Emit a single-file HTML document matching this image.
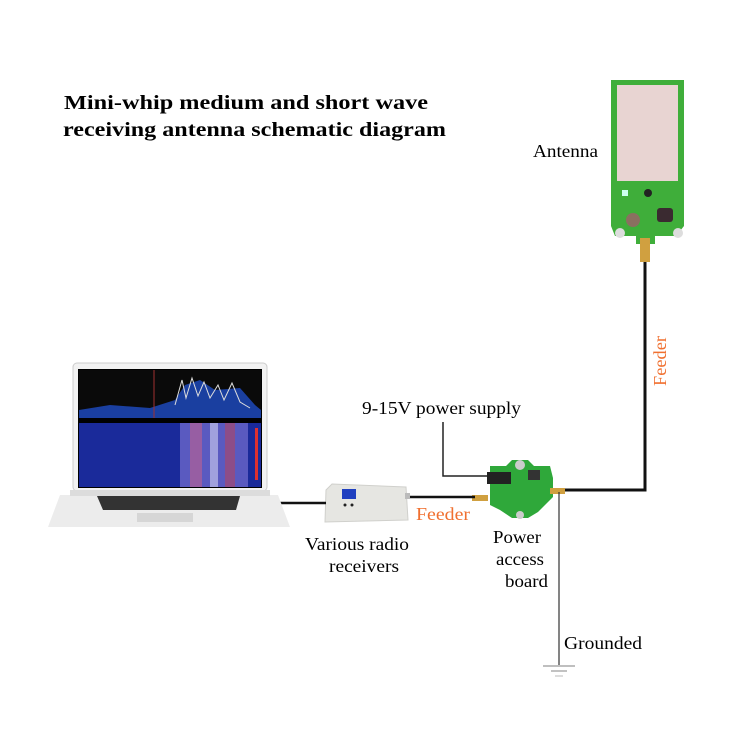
<!DOCTYPE html>
<html><head><meta charset="utf-8"><style>
html,body{margin:0;padding:0;background:#fff;}
svg{display:block;}
text{font-family:"Liberation Serif",serif;}
</style></head><body>
<svg width="750" height="750" viewBox="0 0 750 750" xmlns="http://www.w3.org/2000/svg">
<rect width="750" height="750" fill="#fff"/>
<!-- title -->
<text x="64" y="109" font-size="20" font-weight="bold" textLength="364" lengthAdjust="spacingAndGlyphs">Mini-whip medium and short wave</text>
<text x="63" y="136" font-size="20" font-weight="bold" textLength="383" lengthAdjust="spacingAndGlyphs">receiving antenna schematic diagram</text>

<!-- antenna -->
<path d="M611 80 H684 V226 L676 236 H655 V244 H636 V236 H615 L611 226 Z" fill="#3fae3a"/>
<rect x="617" y="85" width="61" height="96" fill="#e8d4d2"/>
<rect x="622" y="190" width="6" height="6" fill="#cfe"/>
<circle cx="648" cy="193" r="4" fill="#222"/>
<circle cx="633" cy="220" r="7" fill="#8a7060"/>
<rect x="657" y="208" width="16" height="14" rx="3" fill="#3a2a30"/>
<circle cx="620" cy="233" r="5" fill="#ddd"/><circle cx="678" cy="233" r="5" fill="#ddd"/>
<rect x="640" y="238" width="10" height="24" fill="#d0a040"/>
<!-- antenna feeder -->
<polyline points="645,262 645,490 555,490" fill="none" stroke="#111" stroke-width="3"/>
<text x="0" y="0" font-size="18" fill="#f07030" textLength="50" lengthAdjust="spacingAndGlyphs" transform="translate(666,386) rotate(-90)">Feeder</text>
<text x="533" y="157" font-size="18" textLength="65" lengthAdjust="spacingAndGlyphs">Antenna</text>

<!-- power board -->
<path d="M490 466 L506 466 L512 460 L528 460 L534 466 L550 466 L553 478 V497 L545 505 L538 512 L528 518 L512 518 L500 510 L490 505 Z" fill="#2fa83a"/>
<circle cx="520" cy="465" r="5" fill="#ccc"/><circle cx="520" cy="515" r="4" fill="#ccc"/>
<rect x="487" y="472" width="24" height="12" fill="#222"/>
<rect x="528" y="470" width="12" height="10" fill="#333"/>
<rect x="472" y="495" width="16" height="6" fill="#d0a040"/>
<rect x="550" y="488" width="15" height="6" fill="#d0a040"/>
<!-- power supply line -->
<polyline points="443,422 443,476 487,476" fill="none" stroke="#222" stroke-width="1.5"/>
<text x="362" y="414" font-size="18" textLength="159" lengthAdjust="spacingAndGlyphs">9-15V power supply</text>
<!-- ground -->
<line x1="559" y1="492" x2="559" y2="665" stroke="#333" stroke-width="1.2"/>
<line x1="543" y1="666" x2="575" y2="666" stroke="#999" stroke-width="1.2"/>
<line x1="551" y1="671" x2="567" y2="671" stroke="#999" stroke-width="1.2"/>
<line x1="555" y1="676" x2="563" y2="676" stroke="#bbb" stroke-width="1"/>
<text x="564" y="649" font-size="18" textLength="78" lengthAdjust="spacingAndGlyphs">Grounded</text>
<text x="493" y="543" font-size="18" textLength="48" lengthAdjust="spacingAndGlyphs">Power</text>
<text x="496" y="565" font-size="18" textLength="48" lengthAdjust="spacingAndGlyphs">access</text>
<text x="505" y="587" font-size="18" textLength="43" lengthAdjust="spacingAndGlyphs">board</text>

<!-- receiver to board -->
<line x1="410" y1="497" x2="475" y2="497" stroke="#111" stroke-width="2.5"/>
<text x="416" y="520" font-size="18" fill="#f07030" textLength="54" lengthAdjust="spacingAndGlyphs">Feeder</text>
<!-- receiver -->
<path d="M326 490 L332 484 L406 487 L408 520 L325 522 Z" fill="#e6e6e2" stroke="#d0d0cc"/>
<rect x="342" y="489" width="14" height="10" fill="#2040c0"/>
<circle cx="345" cy="505" r="1.5" fill="#222"/><circle cx="352" cy="505" r="1.5" fill="#222"/>
<rect x="405" y="493" width="5" height="6" fill="#bbb"/>
<text x="305" y="550" font-size="18" textLength="104" lengthAdjust="spacingAndGlyphs">Various radio</text>
<text x="329" y="572" font-size="18" textLength="70" lengthAdjust="spacingAndGlyphs">receivers</text>

<!-- laptop to receiver -->
<line x1="278" y1="503" x2="326" y2="503" stroke="#111" stroke-width="2.5"/>
<!-- laptop -->
<rect x="73" y="363" width="194" height="128" rx="4" fill="#f2f2f2" stroke="#ccc"/>
<rect x="78" y="369" width="184" height="119" fill="#000"/>
<rect x="79" y="370" width="182" height="48" fill="#0a0a0a"/>
<path d="M79 410 L110 405 L150 408 L175 400 L185 385 L200 380 L215 390 L240 388 L255 405 L261 410 V418 H79 Z" fill="#1a3fa0"/>
<path d="M175 405 L182 380 L186 398 L192 378 L198 396 L204 382 L210 398 L218 385 L224 400 L232 383 L240 402 L250 408" fill="none" stroke="#ddd" stroke-width="1"/>
<line x1="154" y1="370" x2="154" y2="418" stroke="#a03030" stroke-width="1"/>
<rect x="79" y="423" width="182" height="64" fill="#1a2a9a"/>
<rect x="180" y="423" width="68" height="64" fill="#5a5ac0"/>
<rect x="190" y="423" width="12" height="64" fill="#c06090" opacity="0.6"/>
<rect x="210" y="423" width="8" height="64" fill="#d0d0f0" opacity="0.6"/>
<rect x="225" y="423" width="10" height="64" fill="#c04050" opacity="0.5"/>
<rect x="255" y="428" width="3" height="52" fill="#e03030"/>
<path d="M60 495 H278 L290 527 H48 Z" fill="#ececec"/>
<rect x="70" y="490" width="200" height="6" fill="#dcdcdc"/>
<path d="M97 496 H240 L236 510 H103 Z" fill="#333"/>
<rect x="137" y="513" width="56" height="9" fill="#d6d6d6"/>
</svg>
</body></html>
